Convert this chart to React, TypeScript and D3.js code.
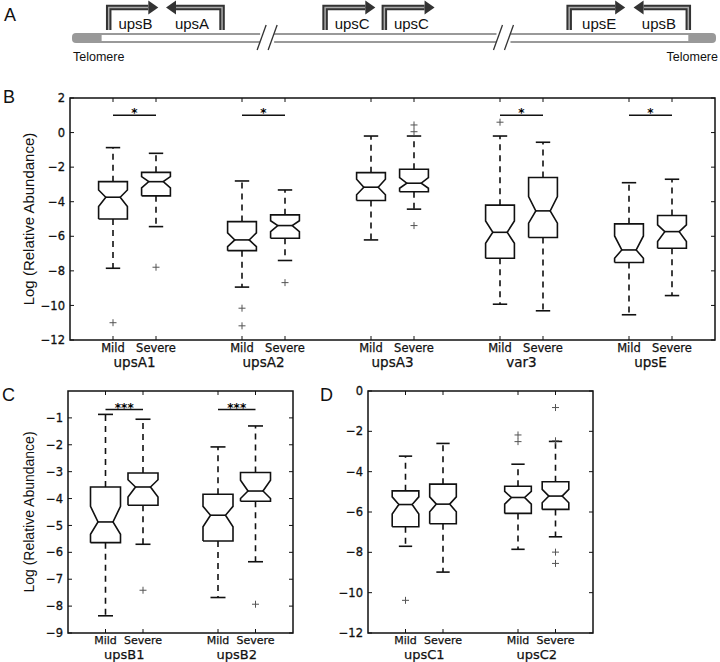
import React from "react";
import * as d3 from "d3";

// ---------- Panel A: gene diagram ----------
const geneNames = ["upsB", "upsA", "upsC", "upsC", "upsE", "upsB"];
const geneStart = [57, 233, 393, 485, 772, 957];
const geneTip = [134, 146, 471, 563, 859, 872];
const breakPos = [303, 670];
const telomereInner = [46, 957];

// ---------- Panel B ----------
const groupsB = ["upsA1", "upsA2", "upsA3", "var3", "upsE"];
const conditions = ["Mild", "Severe"];
const positionsB = [1, 2, 4, 5, 7, 8, 10, 11, 13, 14];
// [lowerCap, q1, notchLo, median, notchHi, q3, upperCap]
const boxesB = [
  [-7.85, -5.0, -4.28, -3.74, -3.32, -2.84, -0.87],
  [-5.44, -3.66, -3.2, -2.84, -2.55, -2.3, -1.2],
  [-8.94, -6.83, -6.6, -6.21, -5.8, -5.15, -2.8],
  [-7.4, -6.11, -5.73, -5.38, -5.1, -4.76, -3.32],
  [-6.21, -3.93, -3.6, -3.16, -2.7, -2.32, -0.2],
  [-4.43, -3.42, -3.22, -2.93, -2.6, -2.12, -0.2],
  [-9.93, -7.27, -6.4, -5.77, -5.11, -4.2, -0.2],
  [-10.31, -6.07, -5.24, -4.53, -3.7, -2.6, -0.56],
  [-10.54, -7.52, -7.27, -6.79, -5.98, -5.28, -2.9],
  [-9.43, -6.69, -6.3, -5.73, -5.34, -4.8, -2.7],
];
const outliersB = [[-11.0], [-7.79], [-10.16, -11.18], [-8.68], [], [0.44, 0.05, -5.38], [0.6], [], [], []];
const sigGroupsB = [0, 1, 3, 4];
const sigLabelsB = ["*", "*", "*", "*"];
const sigLevelB = 1.0;
const yTicksB = [2, 0, -2, -4, -6, -8, -10, -12];

// ---------- Panel C ----------
const groupsC = ["upsB1", "upsB2"];
const positionsC = [1, 2, 4, 5];
const boxesC = [
  [-8.36, -5.64, -5.33, -4.87, -4.29, -3.57, -0.87],
  [-5.7, -4.25, -3.94, -3.57, -3.3, -3.05, -1.05],
  [-7.68, -5.58, -5.05, -4.62, -4.29, -3.84, -2.08],
  [-6.35, -4.1, -4.0, -3.72, -3.32, -3.03, -1.3],
];
const outliersC = [[], [-7.41], [], [-7.93]];
const sigGroupsC = [0, 1];
const sigLabelsC = ["***", "***"];
const sigLevelC = -0.69;
const yTicksC = [-1, -2, -3, -4, -5, -6, -7, -8, -9];

// ---------- Panel D ----------
const groupsD = ["upsC1", "upsC2"];
const positionsD = [1, 2, 4, 5];
const boxesD = [
  [-7.7, -6.73, -6.1, -5.63, -5.25, -4.95, -3.23],
  [-8.98, -6.58, -5.99, -5.61, -5.25, -4.62, -2.6],
  [-7.85, -6.07, -5.61, -5.28, -4.98, -4.72, -3.63],
  [-7.23, -5.87, -5.54, -5.21, -4.88, -4.5, -2.5],
];
const outliersD = [[-10.38], [], [-2.18, -2.51], [-0.82, -2.47, -7.99, -8.55]];
const yTicksD = [0, -2, -4, -6, -8, -10, -12];

const DV = "'DejaVu Sans', sans-serif";
const AR = "'Liberation Sans', Arial, sans-serif";
const fmt = (v: number) => (v < 0 ? "\u2212" + Math.abs(v) : String(v));
const INK = "#111";

type LabelStyle = { condSize: number; condOffset: number; groupSize: number; groupOffset: number };

type PanelProps = {
  left: number; right: number; top: number; bottom: number;
  xMax: number; yDomain: [number, number]; yTicks: number[];
  positions: number[]; boxes: number[][]; outliers: number[][];
  boxW: number; groups: string[]; labels: LabelStyle;
  sigGroups?: number[]; sigLabels?: string[]; sigLevel?: number;
  yLabel?: { x: number; size: number };
};

function BoxPanel(p: PanelProps) {
  const x = d3.scaleLinear().domain([0, p.xMax]).range([p.left, p.right]);
  const y = d3.scaleLinear().domain(p.yDomain).range([p.bottom, p.top]);
  const line = d3.line<[number, number]>();
  const tickLen = 4;
  const els: React.ReactNode[] = [];

  p.boxes.forEach((b, i) => {
    const pos = p.positions[i];
    const [lo, q1, cilo, med, cihi, q3, hi] = b;
    const bl = x(pos - p.boxW / 2), br = x(pos + p.boxW / 2);
    const cl = x(pos - p.boxW / 4), cr = x(pos + p.boxW / 4);
    const cx = x(pos);
    const pts: [number, number][] = [
      [bl, y(q1)], [br, y(q1)], [br, y(cilo)], [cr, y(med)], [br, y(cihi)], [br, y(q3)],
      [bl, y(q3)], [bl, y(cihi)], [cl, y(med)], [bl, y(cilo)], [bl, y(q1)],
    ];
    els.push(
      <g key={"b" + i}>
        <line x1={cx} x2={cx} y1={y(q1)} y2={y(lo)} stroke={INK} strokeWidth={1.6} strokeDasharray="6,5" />
        <line x1={cx} x2={cx} y1={y(q3)} y2={y(hi)} stroke={INK} strokeWidth={1.6} strokeDasharray="6,5" />
        <line x1={cl} x2={cr} y1={y(lo)} y2={y(lo)} stroke={INK} strokeWidth={1.6} />
        <line x1={cl} x2={cr} y1={y(hi)} y2={y(hi)} stroke={INK} strokeWidth={1.6} />
        <path d={line(pts) || ""} fill="none" stroke={INK} strokeWidth={1.6} strokeLinejoin="miter" />
        <line x1={cl} x2={cr} y1={y(med)} y2={y(med)} stroke={INK} strokeWidth={1.6} />
        {p.outliers[i].map((o, j) => (
          <path key={j} d={`M${cx - 3.5},${y(o)}H${cx + 3.5}M${cx},${y(o) - 3.5}V${y(o) + 3.5}`} stroke="#555" strokeWidth={1} />
        ))}
      </g>
    );
  });

  if (p.sigGroups && p.sigLevel !== undefined) {
    p.sigGroups.forEach((g, k) => {
      const x1 = x(p.positions[g * 2]), x2 = x(p.positions[g * 2 + 1]);
      const yy = y(p.sigLevel as number);
      els.push(
        <g key={"s" + k}>
          <line x1={x1} x2={x2} y1={yy} y2={yy} stroke={INK} strokeWidth={1.5} />
          <text x={(x1 + x2) / 2} y={yy + 2} textAnchor="middle" fontFamily={DV} fontSize={12} fontWeight="bold" fill="#000">
            {p.sigLabels ? p.sigLabels[k] : "*"}
          </text>
        </g>
      );
    });
  }

  return (
    <g>
      {els}
      <rect x={p.left} y={p.top} width={p.right - p.left} height={p.bottom - p.top} fill="none" stroke={INK} strokeWidth={1.5} />
      {p.yTicks.map((t) => (
        <g key={"yt" + t}>
          <line x1={p.left} x2={p.left + tickLen} y1={y(t)} y2={y(t)} stroke={INK} />
          <line x1={p.right} x2={p.right - tickLen} y1={y(t)} y2={y(t)} stroke={INK} />
          <text x={p.left - 5} y={y(t)} dy="0.36em" textAnchor="end" fontFamily={DV} fontSize={11.5}
            fill={INK} stroke={INK} strokeWidth={0.3}>
            {fmt(t)}
          </text>
        </g>
      ))}
      {p.positions.map((pos, i) => (
        <g key={"xt" + i}>
          <line x1={x(pos)} x2={x(pos)} y1={p.bottom} y2={p.bottom - tickLen} stroke={INK} />
          <line x1={x(pos)} x2={x(pos)} y1={p.top} y2={p.top + tickLen} stroke={INK} />
          <text x={x(pos)} y={p.bottom + p.labels.condOffset} textAnchor="middle" fontFamily={DV} fontSize={p.labels.condSize}
            fill={INK} stroke={INK} strokeWidth={0.25}>
            {conditions[i % 2]}
          </text>
        </g>
      ))}
      {p.groups.map((g, i) => (
        <text key={"g" + i} x={x((p.positions[i * 2] + p.positions[i * 2 + 1]) / 2)} y={p.bottom + p.labels.groupOffset}
          textAnchor="middle" fontFamily={DV} fontSize={p.labels.groupSize} fill={INK} stroke={INK} strokeWidth={0.25}>
          {g}
        </text>
      ))}
      {p.yLabel && (
        <text transform={`translate(${p.yLabel.x},${(p.top + p.bottom) / 2}) rotate(-90)`} textAnchor="middle"
          fontFamily={AR} fontSize={p.yLabel.size} fill={INK}>
          Log (Relative Abundance)
        </text>
      )}
    </g>
  );
}

function PanelA() {
  const gx = d3.scaleLinear().domain([0, 1000]).range([72, 716]);
  const barY = 38;
  const topY = 7.5;
  const els: React.ReactNode[] = [];
  geneNames.forEach((name, i) => {
    const s = gx(geneStart[i]);
    const t = gx(geneTip[i]);
    const dir = t > s ? 1 : -1;
    const headLen = 10;
    const shaftEnd = t - dir * headLen;
    const path = `M${s},${barY - 8}V${topY}H${shaftEnd}`;
    els.push(
      <g key={i}>
        <path d={path} fill="none" stroke="#333" strokeWidth={5.5} strokeLinejoin="miter" />
        <path d={path} fill="none" stroke="#aaa" strokeWidth={1.5} />
        <polygon points={`${shaftEnd},${topY - 7} ${t},${topY} ${shaftEnd},${topY + 7}`} fill="#333" />
        <text x={(s + t) / 2 + dir * 2} y={29} textAnchor="middle" fontFamily={AR} fontSize={15} fill={INK}>
          {name}
        </text>
      </g>
    );
  });
  return (
    <g>
      <rect x={gx(0)} y={barY - 5} width={gx(1000) - gx(0)} height={10} rx={4} fill="#999" />
      <rect x={gx(telomereInner[0])} y={barY - 3} width={gx(telomereInner[1]) - gx(telomereInner[0])} height={6} fill="#fff" />
      {breakPos.map((b, i) => (
        <g key={"br" + i}>
          <rect x={gx(b) - 7} y={barY - 6} width={14} height={12} fill="#fff" />
          <line x1={gx(b) - 10} y1={barY + 12} x2={gx(b) - 1} y2={barY - 13} stroke="#333" strokeWidth={1.3} />
          <line x1={gx(b) + 1} y1={barY + 12} x2={gx(b) + 10} y2={barY - 13} stroke="#333" strokeWidth={1.3} />
        </g>
      ))}
      {els}
      <text x={73} y={61} fontFamily={AR} fontSize={12.5} fill={INK}>Telomere</text>
      <text x={718} y={61} textAnchor="end" fontFamily={AR} fontSize={12.5} fill={INK}>Telomere</text>
    </g>
  );
}

const labelsB: LabelStyle = { condSize: 11.5, condOffset: 12, groupSize: 13.5, groupOffset: 26.5 };
const labelsCD: LabelStyle = { condSize: 11, condOffset: 11, groupSize: 13, groupOffset: 25.5 };

export default function App() {
  return (
    <svg width={720} height={662} style={{ position: "absolute", left: 0, top: 0, background: "#fff" }}>
      <rect width={720} height={662} fill="#fff" />
      <text x={4} y={21} fontFamily={AR} fontSize={18} fill={INK}>A</text>
      <text x={3} y={103} fontFamily={AR} fontSize={18} fill={INK}>B</text>
      <text x={2} y={401} fontFamily={AR} fontSize={18} fill={INK}>C</text>
      <text x={320} y={401} fontFamily={AR} fontSize={18} fill={INK}>D</text>
      <PanelA />
      <BoxPanel left={70} right={715} top={98} bottom={340} xMax={15} yDomain={[-12, 2]} yTicks={yTicksB}
        positions={positionsB} boxes={boxesB} outliers={outliersB} boxW={0.67} groups={groupsB} labels={labelsB}
        sigGroups={sigGroupsB} sigLabels={sigLabelsB} sigLevel={sigLevelB} yLabel={{ x: 34, size: 15 }} />
      <BoxPanel left={68} right={293} top={391} bottom={633} xMax={6} yDomain={[-9, 0]} yTicks={yTicksC}
        positions={positionsC} boxes={boxesC} outliers={outliersC} boxW={0.8} groups={groupsC} labels={labelsCD}
        sigGroups={sigGroupsC} sigLabels={sigLabelsC} sigLevel={sigLevelC} yLabel={{ x: 34, size: 14 }} />
      <BoxPanel left={368} right={593} top={391} bottom={633} xMax={6} yDomain={[-12, 0]} yTicks={yTicksD}
        positions={positionsD} boxes={boxesD} outliers={outliersD} boxW={0.71} groups={groupsD} labels={labelsCD} />
    </svg>
  );
}
